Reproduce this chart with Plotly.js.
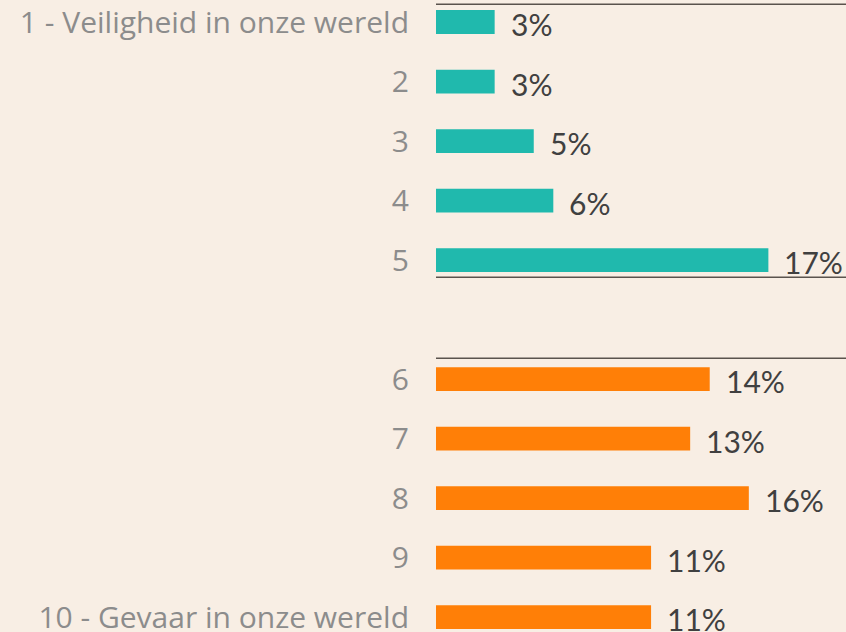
<!DOCTYPE html>
<html><head><meta charset="utf-8">
<script src="https://cdn.plot.ly/plotly-3.0.1.min.js"></script>
<style>html,body{margin:0;padding:0;background:#F8EEE4;}</style>
</head><body><div id="chart" style="width:846px;height:632px;"></div>
<script>
const labelsTop = ['1 - Veiligheid in onze wereld','2','3','4','5'];
const valuesTop = [3,3,5,6,17];
const labelsBottom = ['6','7','8','9','10 - Gevaar in onze wereld'];
const valuesBottom = [14,13,16,11,11];

const posTop = labelsTop.map((_,i)=>i);
const posBottom = labelsBottom.map((_,i)=>i+6);
const fontFam = 'Lato, "Open Sans", sans-serif';
const labelFam = '"Open Sans", Lato, sans-serif';

const traces = [
  {type:'bar', orientation:'h', x:valuesTop, y:posTop, marker:{color:'#20B9AD'}, width:0.4, hoverinfo:'none'},
  {type:'bar', orientation:'h', x:valuesBottom, y:posBottom, marker:{color:'#FF7F07'}, width:0.4, hoverinfo:'none'}
];
const annotations = [];
valuesTop.forEach((v,i)=>annotations.push({x:v,y:posTop[i],text:v+'%',xanchor:'left',xshift:14,yshift:-2,showarrow:false,font:{family:fontFam,size:30,color:'#404040'}}));
valuesBottom.forEach((v,i)=>annotations.push({x:v,y:posBottom[i],text:v+'%',xanchor:'left',xshift:14,yshift:-2,showarrow:false,font:{family:fontFam,size:30,color:'#404040'}}));

const lineStyle = {color:'#5A534D', width:1.5};
const layout = {
  width:846, height:632,
  margin:{l:436, r:0, t:0, b:0},
  paper_bgcolor:'#F8EEE4', plot_bgcolor:'#F8EEE4',
  showlegend:false,
  barmode:'overlay',
  xaxis:{range:[0,20.97], visible:false, fixedrange:true},
  yaxis:{range:[10.25,-0.37], tickvals:posTop.concat(posBottom), ticktext:labelsTop.concat(labelsBottom),
         showgrid:false, zeroline:false, showline:false, ticks:'', ticklabelstandoff:26,
         ticklabeloverflow:'allow',
         tickfont:{family:labelFam, size:30, color:'#8C8C8C'}},
  shapes:[
    {type:'line', xref:'paper', x0:0, x1:1, yref:'y', y0:-0.30, y1:-0.30, line:lineStyle},
    {type:'line', xref:'paper', x0:0, x1:1, yref:'y', y0:4.29, y1:4.29, line:lineStyle},
    {type:'line', xref:'paper', x0:0, x1:1, yref:'y', y0:5.65, y1:5.65, line:lineStyle}
  ],
  annotations:annotations
};
Plotly.newPlot('chart', traces, layout, {displayModeBar:false, staticPlot:true});
</script></body></html>
